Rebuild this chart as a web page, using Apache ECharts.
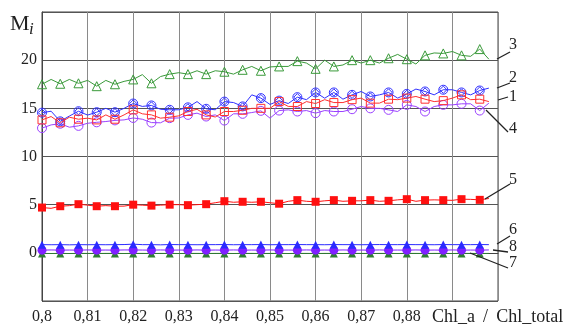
<!DOCTYPE html>
<html>
<head>
<meta charset="utf-8">
<script src="https://cdn.jsdelivr.net/npm/echarts@6/dist/echarts.min.js"></script>
<style>
html,body{margin:0;padding:0;background:#fff;}
#chart{width:574px;height:327px;}
</style>
</head>
<body>
<div id="chart"></div>
<script>
// x positions (Chl_a / Chl_total)
const xValues = [0.800,0.802,0.804,0.806,0.808,0.810,0.812,0.814,0.816,0.818,
  0.820,0.822,0.824,0.826,0.828,0.830,0.832,0.834,0.836,0.838,
  0.840,0.842,0.844,0.846,0.848,0.850,0.852,0.854,0.856,0.858,
  0.860,0.862,0.864,0.866,0.868,0.870,0.872,0.874,0.876,0.878,
  0.880,0.882,0.884,0.886,0.888,0.890,0.892,0.894,0.896,0.898];

const series1 = [13.8,14.15,13.5,14.08,13.87,13.98,13.8,14.32,13.87,14.32,
  14.84,14.43,14.32,13.98,14.08,14.22,14.67,14.9,14.32,14.1,
  14.67,14.67,14.8,15.0,15.0,15.0,15.7,15.2,15.19,15.7,
  15.5,15.9,15.6,15.6,15.9,16.06,15.54,15.54,15.95,15.9,
  16.06,16.23,15.95,15.7,15.8,16.06,16.4,15.9,15.95,15.7];

const series2 = [14.55,14.7,13.65,14.2,14.7,14.3,14.6,15.0,14.6,15.0,
  15.5,15.2,15.3,14.9,14.85,14.85,15.1,15.7,14.95,14.85,
  15.7,15.6,15.2,16.4,16.06,15.4,15.8,15.5,16.16,15.9,
  16.65,16.05,16.65,15.95,16.4,16.75,16.23,16.4,16.65,16.06,
  16.5,17.0,16.75,16.4,16.93,16.93,16.65,16.4,16.85,17.1];

const series3 = [17.5,18.0,17.55,18.0,17.6,17.9,17.3,17.9,17.5,17.8,
  18.0,18.5,17.6,18.3,18.55,18.7,18.55,18.9,18.55,18.9,
  18.8,18.55,19.0,19.35,18.9,19.3,19.35,19.35,19.9,19.7,
  19.1,20.0,19.35,19.5,20.0,19.7,20.0,19.7,20.2,20.6,
  20.1,19.6,20.5,20.75,20.7,20.9,20.5,20.4,21.15,20.1];

const series4 = [12.95,13.28,13.4,13.04,13.18,13.45,13.55,13.63,13.75,13.8,
  14.0,13.87,13.52,13.5,13.98,14.0,14.32,14.5,14.15,14.32,
  13.73,14.43,14.43,14.56,14.74,13.98,14.77,14.84,14.67,14.77,
  14.5,14.77,14.67,14.67,14.91,15.19,15.0,15.0,14.84,14.67,
  15.36,15.19,14.67,15.19,15.36,15.36,15.47,15.47,14.77,15.54];

const series5 = [4.7,4.62,4.84,4.9,5.05,4.95,4.84,4.9,4.84,4.85,
  5.0,4.95,4.9,4.95,5.0,5.0,4.95,5.0,5.05,5.2,
  5.36,5.25,5.3,5.25,5.3,5.2,5.1,5.35,5.47,5.35,
  5.3,5.4,5.47,5.35,5.4,5.4,5.47,5.35,5.4,5.5,
  5.57,5.35,5.47,5.5,5.47,5.45,5.57,5.55,5.5,5.64];

const series6 = [0.85,0.84,0.85,0.83,0.85,0.84,0.85,0.84,0.85,0.86,
  0.9,0.85,0.85,0.83,0.86,0.85,0.85,0.84,0.85,0.85,
  0.86,0.84,0.85,0.85,0.86,0.84,0.85,0.85,0.86,0.85,
  0.85,0.84,0.86,0.85,0.85,0.84,0.85,0.86,0.85,0.85,
  0.86,0.85,0.85,0.84,0.86,0.85,0.85,0.85,0.86,0.85];

const series7 = [-0.06,-0.07,-0.06,-0.07,-0.06,-0.06,-0.07,-0.06,-0.06,-0.07,
  -0.06,-0.06,-0.07,-0.06,-0.06,-0.07,-0.06,-0.06,-0.07,-0.06,
  -0.06,-0.07,-0.06,-0.06,-0.07,-0.06,-0.06,-0.07,-0.06,-0.06,
  -0.07,-0.06,-0.06,-0.07,-0.06,-0.06,-0.07,-0.06,-0.06,-0.07,
  -0.06,-0.06,-0.07,-0.06,-0.06,-0.07,-0.06,-0.06,-0.07,-0.06];

const series8 = [0.28,0.3,0.28,0.29,0.28,0.3,0.28,0.29,0.28,0.3,
  0.3,0.29,0.28,0.3,0.28,0.29,0.28,0.3,0.28,0.29,
  0.28,0.3,0.28,0.29,0.28,0.3,0.28,0.29,0.28,0.3,
  0.28,0.29,0.28,0.3,0.28,0.29,0.28,0.3,0.28,0.29,
  0.28,0.3,0.28,0.29,0.28,0.3,0.28,0.29,0.28,0.3];

const xTickHidden = [0.89, 0.9];
const yTickShown = [0, 5, 10, 15, 20];
const axisTitle = 'Chl_a \u2009/\u2009 Chl_total';

const serif = '"Liberation Serif","DejaVu Serif",serif';

function pts(arr) { return arr.map((v, i) => [xValues[i], v]); }
function markEvery(size) {
  return function (val, params) { return params.dataIndex % 2 === 0 ? size : 0; };
}

function mk(name, data, color, symbol, size, filled, z) {
  return {
    name: name,
    type: 'line',
    data: pts(data),
    showAllSymbol: true,
    symbol: symbol,
    symbolSize: markEvery(size),
    z: z,
    lineStyle: { color: color, width: 1 },
    itemStyle: filled ? { color: color } : { color: 'rgba(255,255,255,0)', borderColor: color, borderWidth: 1 },
    emphasis: { disabled: true },
    animation: false
  };
}

const diamondCircle = 'path://M10,0 A10,10 0 1,1 -10,0 A10,10 0 1,1 10,0 Z M0,-8 L8,0 L0,8 L-8,0 Z';

const chart = echarts.init(document.getElementById('chart'), null, { renderer: 'canvas' });

function labelLine(x1, y1, x2, y2) {
  return { type: 'line', shape: { x1: x1, y1: y1, x2: x2, y2: y2 }, style: { stroke: '#222', lineWidth: 1.3 }, z: 100 };
}
function labelText(t, x, y) {
  return { type: 'text', x: x, y: y, style: { text: t, font: '16px ' + serif, fill: '#222', textAlign: 'left', textVerticalAlign: 'middle' }, z: 100 };
}

chart.setOption({
  animation: false,
  backgroundColor: '#fff',
  grid: { left: 42, top: 12, right: 76, bottom: 26, show: true, borderColor: '#444', borderWidth: 1, backgroundColor: 'transparent' },
  xAxis: {
    type: 'value', min: 0.8, max: 0.9, interval: 0.01,
    axisLine: { show: true, lineStyle: { color: '#444' } },
    axisTick: { show: false },
    splitLine: { show: true, lineStyle: { color: '#8a8a8a', width: 1 } },
    axisLabel: {
      color: '#222', fontFamily: serif, fontSize: 16, margin: 8,
      formatter: function (v) {
        const r = Math.round(v * 100) / 100;
        if (xTickHidden.some(h => Math.abs(h - r) < 1e-6)) return '';
        return String(r).replace('.', ',');
      }
    }
  },
  yAxis: {
    type: 'value', min: -5, max: 25, interval: 5,
    axisLine: { show: true, lineStyle: { color: '#444' } },
    axisTick: { show: false },
    splitLine: { show: true, lineStyle: { color: '#555', width: 1 } },
    axisLabel: {
      color: '#222', fontFamily: serif, fontSize: 16, margin: 5,
      formatter: function (v) { return yTickShown.indexOf(v) >= 0 ? String(v) : ''; }
    }
  },
  series: [
    mk('1', series1, '#ff3030', 'rect', 8, false, 5),
    mk('2', series2, '#3030ff', diamondCircle, 9, false, 4),
    mk('3', series3, '#3a9a3a', 'triangle', 9, false, 4),
    mk('4', series4, '#9a40ff', 'circle', 9, false, 3),
    mk('5', series5, '#ff1010', 'rect', 8, true, 5),
    mk('7', series7, '#2e7d32', 'triangle', 8, true, 3),
    mk('8', series8, '#8020ff', 'circle', 9, true, 4),
    mk('6', series6, '#2a2aff', 'triangle', 8, true, 5)
  ],
  graphic: [
    { type: 'text', x: 10, y: 13, style: { text: 'M', font: '22px ' + serif, fill: '#222' }, z: 100 },
    { type: 'text', x: 29, y: 21, style: { text: 'i', font: 'italic 17px ' + serif, fill: '#222' }, z: 100 },
    { type: 'text', x: 432, y: 317, style: { text: axisTitle, font: '18px ' + serif, fill: '#222', textVerticalAlign: 'middle' }, z: 100 },
    labelLine(497, 59, 510, 52), labelText('3', 509, 45),
    labelLine(497, 88, 510, 83), labelText('2', 509, 78),
    labelLine(498, 100, 508, 97), labelText('1', 509, 97),
    labelLine(486, 110, 508, 132), labelText('4', 509, 129),
    labelLine(485, 199, 510, 184), labelText('5', 509, 180),
    labelLine(497, 244, 510, 236), labelText('6', 509, 230),
    labelLine(493, 250, 508, 252), labelText('8', 509, 247),
    labelLine(470, 253, 508, 268), labelText('7', 509, 263)
  ]
});
</script>
</body>
</html>
